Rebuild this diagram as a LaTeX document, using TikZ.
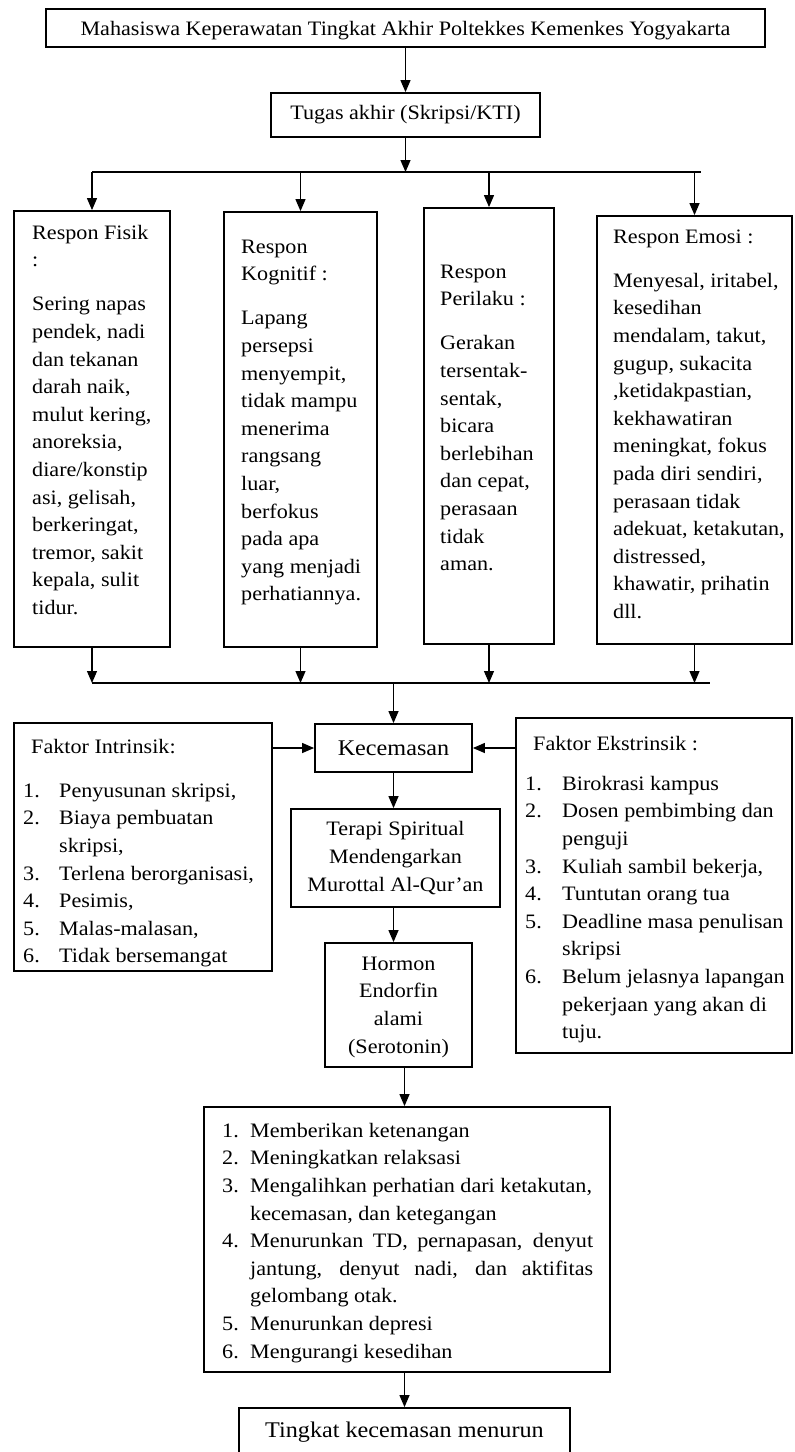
\documentclass[tikz,border=0pt]{standalone}
\usepackage{fontspec}
\setmainfont{Liberation Serif}[FakeStretch=1.08]
\usepackage{tikz}
\usetikzlibrary{arrows.meta}
\newcommand{\nomor}[2][36pt]{\makebox[#1][l]{#2}}
\tikzset{
  kotak/.style={draw,line width=1.8pt,inner sep=0pt},
  isi/.style={anchor=north west,inner sep=0pt,align=left},
  besar/.style={font=\fontsize{22.4pt}{28pt}\selectfont},
  garis/.style={line width=1.2pt},
  panah/.style={->,>={Triangle[length=12pt,width=10pt]},line width=1.2pt},
}
\begin{document}
\begin{tikzpicture}[x=1pt,y=-1pt,font=\fontsize{20.5pt}{27.6pt}\selectfont]
    \useasboundingbox (0,0) rectangle (795,1452);
    \node[kotak,minimum width=719pt,minimum height=38pt,text depth=0pt] (mhs) at (405.5,28)
      {Mahasiswa Keperawatan Tingkat Akhir Poltekkes Kemenkes Yogyakarta};
    \node[kotak,minimum width=269pt,minimum height=44pt] (tugas) at (405.5,115) {Tugas akhir (Skripsi/KTI)};
    \node[kotak,minimum width=156pt,minimum height=436pt] (fisik) at (92,429) {};
    \node[kotak,minimum width=153pt,minimum height=435pt] (kogn) at (300.5,429.5) {};
    \node[kotak,minimum width=130pt,minimum height=436pt] (peri) at (489,426) {};
    \node[kotak,minimum width=195pt,minimum height=428pt] (emosi) at (694.5,430) {};
    \node[kotak,besar,minimum width=157pt,minimum height=48pt] (kec) at (393.5,748) {Kecemasan};
    \node[kotak,minimum width=258pt,minimum height=248pt] (intr) at (143,847) {};
    \node[kotak,minimum width=276pt,minimum height=335pt] (ekst) at (654,885.5) {};
    \node[kotak,align=center,minimum width=209pt,minimum height=98pt] (terapi) at (395.5,858)
      {Terapi Spiritual\\ Mendengarkan\\ Murottal Al-Qur’an};
    \node[kotak,align=center,minimum width=147pt,minimum height=124pt,text depth=0pt] (hormon) at (398.5,1005)
      {Hormon\\ Endorfin\\ alami\\ (Serotonin)};
    \node[kotak,minimum width=406pt,minimum height=265pt] (manfaat) at (407,1239.5) {};
    \node[kotak,besar,minimum width=331pt,minimum height=48pt] (turun) at (404.5,1432) {Tingkat kecemasan menurun};

    \node[isi] (fisikT) at (32,219.7) {\strut Respon Fisik\\ :\\[16.5pt]
      Sering napas\\ pendek, nadi\\ dan tekanan\\ darah naik,\\ mulut kering,\\ anoreksia,\\
      diare/konstip\\ asi, gelisah,\\ berkeringat,\\ tremor, sakit\\ kepala, sulit\\ tidur.};
    \node[isi] (kognT) at (241,233.7) {\strut Respon\\ Kognitif :\\[16.5pt]
      Lapang\\ persepsi\\ menyempit,\\ tidak mampu\\ menerima\\ rangsang\\ luar,\\ berfokus\\
      pada apa\\ yang menjadi\\ perhatiannya.};
    \node[isi] (periT) at (440,258.7) {\strut Respon\\ Perilaku :\\[16.5pt]
      Gerakan\\ tersentak-\\ sentak,\\ bicara\\ berlebihan\\ dan cepat,\\ perasaan\\ tidak\\ aman.};
    \node[isi] (emosiT) at (613,223.7) {\strut Respon Emosi :\\[16.5pt]
      Menyesal, iritabel,\\ kesedihan\\ mendalam, takut,\\ gugup, sukacita\\ ,ketidakpastian,\\
      kekhawatiran\\ meningkat, fokus\\ pada diri sendiri,\\ perasaan tidak\\ adekuat, ketakutan,\\
      distressed,\\ khawatir, prihatin\\ dll.};
    \node[isi] (intrT) at (23,733.7) {\strut\hspace*{8pt}Faktor Intrinsik:\\[16.5pt]
      \nomor{1.}Penyusunan skripsi,\\ \nomor{2.}Biaya pembuatan\\ \nomor{}skripsi,\\
      \nomor{3.}Terlena berorganisasi,\\ \nomor{4.}Pesimis,\\ \nomor{5.}Malas-malasan,\\
      \nomor{6.}Tidak bersemangat};
    \node[isi] (ekstT) at (525,730.7) {\strut\hspace*{8pt}Faktor Ekstrinsik :\\[12.4pt]
      \nomor[37pt]{1.}Birokrasi kampus\\ \nomor[37pt]{2.}Dosen pembimbing dan\\ \nomor[37pt]{}penguji\\
      \nomor[37pt]{3.}Kuliah sambil bekerja,\\ \nomor[37pt]{4.}Tuntutan orang tua\\
      \nomor[37pt]{5.}Deadline masa penulisan\\ \nomor[37pt]{}skripsi\\
      \nomor[37pt]{6.}Belum jelasnya lapangan\\ \nomor[37pt]{}pekerjaan yang akan di\\ \nomor[37pt]{}tuju.};
    \node[isi] (manfaatT) at (222,1117.7) {\strut\nomor[28pt]{1.}Memberikan ketenangan\\
      \nomor[28pt]{2.}Meningkatkan relaksasi\\
      \nomor[28pt]{3.}Mengalihkan perhatian dari ketakutan,\\ \nomor[28pt]{}kecemasan, dan ketegangan\\
      \nomor[28pt]{4.}\makebox[343pt][s]{Menurunkan TD, pernapasan, denyut}\\
      \nomor[28pt]{}\makebox[343pt][s]{jantung, denyut nadi, dan aktifitas}\\
      \nomor[28pt]{}gelombang otak.\\
      \nomor[28pt]{5.}Menurunkan depresi\\ \nomor[28pt]{6.}Mengurangi kesedihan};

    \coordinate (cab) at (405.5,172);
    \coordinate (b1) at (92,172);
    \coordinate (b2) at (300.5,172);
    \coordinate (b3) at (489,172);
    \coordinate (b4) at (694.5,172);
    \coordinate (b5) at (701,172);
    \coordinate (d0) at (393.5,683);
    \coordinate (d1) at (92,683);
    \coordinate (d2) at (300.5,683);
    \coordinate (d3) at (489,683);
    \coordinate (d4) at (694.5,683);
    \coordinate (d5) at (710,683);
    \draw[garis] (b1) -- (b5);
    \draw[garis] (d1) -- (d5);
    \path[panah]
      (mhs) edge (tugas)
      (tugas) edge (cab)
      (b1) edge (fisik)
      (b2) edge (kogn)
      (b3) edge (peri)
      (b4) edge (emosi)
      (fisik) edge (d1)
      (kogn) edge (d2)
      (peri) edge (d3)
      (emosi) edge (d4)
      (d0) edge (kec)
      (intr.east |- kec) edge (kec)
      (ekst.west |- kec) edge (kec)
      (kec) edge (kec |- terapi.north)
      (kec |- terapi.south) edge (kec |- hormon.north)
      (hormon.south -| turun) edge (turun |- manfaat.north)
      (manfaat.south -| turun) edge (turun);
  \end{tikzpicture}
\end{document}
